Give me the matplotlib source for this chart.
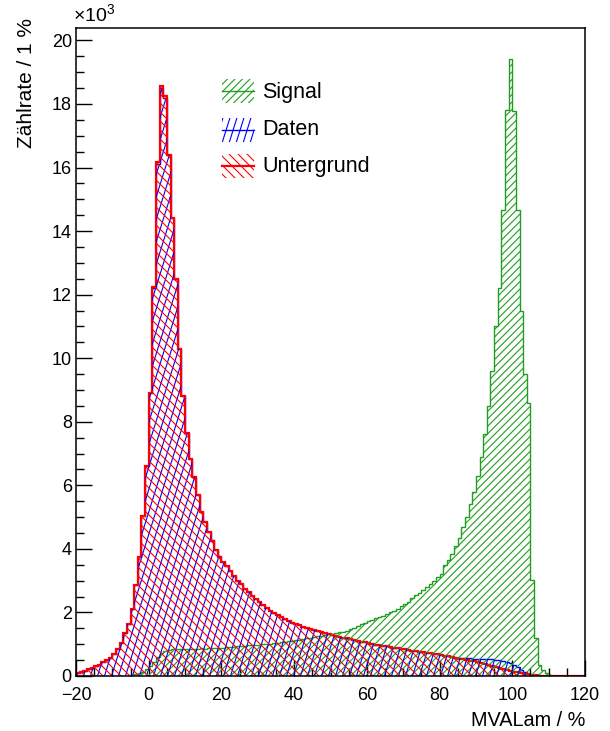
import numpy as np
import matplotlib
matplotlib.use('Agg')
import matplotlib.pyplot as plt
from matplotlib.collections import LineCollection
from matplotlib.patches import Rectangle
from matplotlib.ticker import MultipleLocator

plt.rcParams['font.family'] = ['Liberation Sans', 'DejaVu Sans']
plt.rcParams['mathtext.fontset'] = 'custom'
plt.rcParams['mathtext.rm'] = 'Liberation Sans'

# bin edges in MVALam / %, one bin = 1 %
edges = np.arange(-20, 121, 1)

# counts per bin in units of 10^3, bins -20 ... 119
untergrund = [
    0.08, 0.12, 0.16, 0.21, 0.26, 0.30, 0.36, 0.43, 0.50, 0.58,
    0.70, 0.85, 1.05, 1.35, 1.65, 2.10, 2.85, 3.75, 5.05, 6.60,
    8.90, 12.24, 16.16, 18.55, 18.24, 16.40, 14.40, 12.50, 10.30, 8.80,
    7.65, 6.82, 6.25, 5.70, 5.17, 4.84, 4.53, 4.25, 3.95, 3.75,
    3.60, 3.45, 3.30, 3.15, 3.00, 2.88, 2.75, 2.63, 2.52, 2.42,
    2.32, 2.22, 2.14, 2.06, 1.98, 1.92, 1.86, 1.80, 1.74, 1.68,
    1.63, 1.59, 1.55, 1.51, 1.47, 1.44, 1.41, 1.38, 1.35, 1.32,
    1.29, 1.26, 1.24, 1.21, 1.18, 1.15, 1.13, 1.10, 1.08, 1.06,
    1.03, 1.01, 0.99, 0.97, 0.95, 0.93, 0.91, 0.89, 0.88, 0.86,
    0.84, 0.82, 0.80, 0.79, 0.77, 0.75, 0.73, 0.72, 0.70, 0.68,
    0.66, 0.64, 0.62, 0.60, 0.57, 0.55, 0.53, 0.51, 0.48, 0.46,
    0.43, 0.41, 0.38, 0.35, 0.32, 0.29, 0.26, 0.23, 0.20, 0.17,
    0.14, 0.12, 0.09, 0.07, 0.05, 0.03, 0.02, 0.01, 0.00, 0.00,
    0.00, 0.00, 0.00, 0.00, 0.00, 0.00, 0.00, 0.00, 0.00, 0.00,
]

daten = [
    0.08, 0.12, 0.16, 0.21, 0.26, 0.30, 0.36, 0.43, 0.50, 0.58,
    0.70, 0.85, 1.05, 1.35, 1.65, 2.10, 2.85, 3.75, 5.05, 6.60,
    8.90, 12.20, 16.10, 18.50, 18.20, 16.40, 14.40, 12.50, 10.30, 8.80,
    7.65, 6.82, 6.25, 5.70, 5.17, 4.84, 4.53, 4.27, 3.97, 3.77,
    3.60, 3.45, 3.30, 3.15, 3.00, 2.88, 2.75, 2.63, 2.52, 2.42,
    2.32, 2.22, 2.14, 2.06, 1.98, 1.92, 1.86, 1.80, 1.74, 1.68,
    1.63, 1.59, 1.55, 1.51, 1.47, 1.44, 1.41, 1.38, 1.35, 1.32,
    1.29, 1.26, 1.24, 1.21, 1.18, 1.15, 1.13, 1.10, 1.08, 1.06,
    1.03, 1.01, 0.99, 0.97, 0.95, 0.93, 0.91, 0.89, 0.88, 0.86,
    0.84, 0.82, 0.80, 0.79, 0.77, 0.75, 0.73, 0.72, 0.70, 0.68,
    0.66, 0.64, 0.62, 0.60, 0.58, 0.57, 0.57, 0.56, 0.56, 0.55,
    0.55, 0.55, 0.54, 0.53, 0.52, 0.50, 0.49, 0.47, 0.45, 0.42,
    0.36, 0.28, 0.20, 0.13, 0.07, 0.04, 0.02, 0.01, 0.00, 0.00,
    0.00, 0.00, 0.00, 0.00, 0.00, 0.00, 0.00, 0.00, 0.00, 0.00,
]

signal = [
    0.00, 0.00, 0.00, 0.00, 0.00, 0.00, 0.00, 0.00, 0.00, 0.00,
    0.00, 0.00, 0.00, 0.00, 0.01, 0.02, 0.05, 0.08, 0.14, 0.22,
    0.32, 0.45, 0.60, 0.72, 0.78, 0.82, 0.84, 0.84, 0.85, 0.84,
    0.85, 0.86, 0.85, 0.86, 0.87, 0.86, 0.87, 0.88, 0.87, 0.88,
    0.89, 0.90, 0.91, 0.92, 0.93, 0.94, 0.95, 0.96, 0.97, 0.98,
    0.99, 1.00, 1.01, 1.02, 1.03, 1.04, 1.06, 1.07, 1.09, 1.10,
    1.12, 1.14, 1.16, 1.18, 1.20, 1.22, 1.25, 1.27, 1.29, 1.31,
    1.33, 1.35, 1.37, 1.40, 1.43, 1.47, 1.52, 1.58, 1.63, 1.68,
    1.73, 1.77, 1.82, 1.86, 1.90, 1.95, 2.00, 2.06, 2.12, 2.20,
    2.28, 2.33, 2.45, 2.55, 2.62, 2.72, 2.80, 2.90, 3.00, 3.10,
    3.20, 3.50, 3.65, 3.85, 4.10, 4.35, 4.70, 5.00, 5.40, 5.80,
    6.30, 6.90, 7.60, 8.50, 9.60, 11.00, 12.22, 14.65, 17.80, 19.42,
    17.77, 14.67, 11.49, 9.50, 8.60, 3.02, 1.19, 0.35, 0.19, 0.08,
    0.03, 0.00, 0.00, 0.00, 0.00, 0.00, 0.00, 0.00, 0.00, 0.00,
]

c_sig = '#1f9f1f'
c_dat = '#0000ff'
c_bkg = '#ff0000'

fig = plt.figure(figsize=(6.1, 7.31), dpi=100)
ax = fig.add_axes([76 / 610, 1 - 676 / 731, 509 / 610, 648 / 731])
ax.set_xlim(-20, 120)
ax.set_ylim(0, 20.39)


def hatch(clip, color, slope, step, lw=0.8):
    # ROOT-like hatch: straight lines in pixel space, clipped to a patch
    W, H = ax.bbox.width, ax.bbox.height
    run = H / slope
    lo = min(0, -run) - step
    hi = W + max(0, -run) + step
    segs = [[(x0 / W, 0), ((x0 + run) / W, 1)] for x0 in np.arange(lo, hi, step)]
    lc = LineCollection(segs, colors=color, linewidths=lw, transform=ax.transAxes)
    ax.add_collection(lc, autolim=False)
    lc.set_clip_path(clip)


# histograms: signal, data, background (background drawn last)
p_sig = ax.stairs(signal, edges, fill=True, facecolor='none', edgecolor='none')
hatch(p_sig, c_sig, 1.0, 7.5)
ax.stairs(signal, edges, color=c_sig, lw=1.0)

p_dat = ax.stairs(daten, edges, fill=True, facecolor='none', edgecolor='none')
hatch(p_dat, c_dat, 3.2, 7)
ax.stairs(daten, edges, color=c_dat, lw=1.0)

p_bkg = ax.stairs(untergrund, edges, fill=True, facecolor='none', edgecolor='none')
hatch(p_bkg, c_bkg, -1.0, 9)
ax.stairs(untergrund, edges, color=c_bkg, lw=1.6)

# legend without frame: hatched box with a line through it
entries = [('Signal', c_sig, 1.0, 7.5, 1.0, 91, 98),
           ('Daten', c_dat, 3.2, 7, 1.0, 130, 135),
           ('Untergrund', c_bkg, -1.0, 9, 1.6, 166, 172)]
for name, col, slope, step, lw, yc, ybase in entries:
    yc_f = (676 - yc) / 648
    rect = Rectangle(((222 - 76) / 509, yc_f - 12 / 648), 32 / 509, 24 / 648,
                     transform=ax.transAxes, facecolor='none', edgecolor='none')
    ax.add_patch(rect)
    hatch(rect, col, slope, step)
    ax.plot([(222 - 76) / 509, (254 - 76) / 509], [yc_f, yc_f], color=col, lw=lw,
            transform=ax.transAxes)
    ax.text((262 - 76) / 509, (676 - ybase) / 648, name, transform=ax.transAxes,
            fontsize=15.5, ha='left', va='baseline')

# axes in ROOT style
ax.xaxis.set_major_locator(MultipleLocator(20))
ax.xaxis.set_minor_locator(MultipleLocator(5))
ax.yaxis.set_major_locator(MultipleLocator(2))
ax.yaxis.set_minor_locator(MultipleLocator(0.5))
ax.tick_params(which='both', direction='in', top=False, right=False, width=1, labelsize=13)
ax.tick_params(which='major', length=11.5)
ax.tick_params(which='minor', length=5.8)
ax.tick_params(axis='x', pad=8)
ax.tick_params(axis='y', pad=3)
for s in ax.spines.values():
    s.set_linewidth(1.1)

fig.text(73 / 610, 1 - 22 / 731, r'$\times10^{3}$', fontsize=14, ha='left', va='baseline')
fig.text(27 / 610, 1 - 18 / 731, 'Zählrate / 1 %', rotation=90, fontsize=15,
         ha='center', va='top')
fig.text(585 / 610, 1 - 726 / 731, 'MVALam / %', fontsize=14.3, ha='right', va='baseline')

fig.savefig('out.png', dpi=100)
